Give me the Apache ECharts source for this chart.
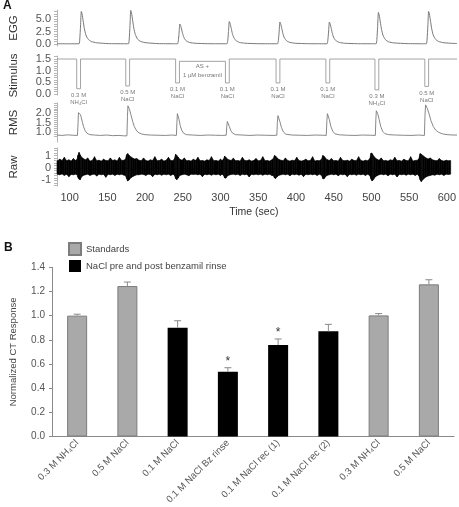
<!DOCTYPE html>
<html><head><meta charset="utf-8">
<script src="https://cdn.jsdelivr.net/npm/echarts@6/dist/echarts.min.js"></script>
<style>html,body{margin:0;padding:0;background:#fff}#c{width:459px;height:507px}</style>
</head><body><div id="c"></div>
<script>
// ================= Panel A data =================
const timeMin = 83.3, timeMax = 605;
const timeTickLabels = [100,150,200,250,300,350,400,450,500,550,600];
const eggTickLabels = [0, 2.5, 5];
const stimTickLabels = [0, 0.5, 1, 1.5];
const rmsTickLabels = [1, 1.5, 2];
const rawTickLabels = [-1, 0, 1];

// EGG trace [time, value]
const eggTrace = [
[83.3,0.05],[100,0.04],[112,0.05],[113,1.0],[114,3.6],[115,6.5],[116,6.0],[117.5,4.55],[119,3.05],[121,1.8],[124,0.95],[128,0.5],[135,0.25],[150,0.08],[170,0.05],
[176.5,0.05],[177.5,1.0],[178.5,3.7],[179.5,6.7],[180.5,6.2],[182,4.7],[183.5,3.15],[185.5,1.9],[188.5,0.95],[192.5,0.5],[199.5,0.25],[215,0.08],[235,0.05],
[240.5,0.05],[241.5,0.6],[242.5,2.2],[243.5,4.0],[244.5,3.7],[246,2.8],[247.5,1.9],[249.5,1.1],[252.5,0.55],[256.5,0.3],[263.5,0.15],[280,0.06],[300,0.05],
[305,0.05],[306,0.7],[307,2.5],[308,4.5],[309,4.15],[310.5,3.15],[312,2.1],[314,1.25],[317,0.65],[321,0.33],[328,0.16],[345,0.06],[365,0.05],
[371,0.05],[372,0.7],[373,2.4],[374,4.4],[375,4.05],[376.5,3.1],[378,2.05],[380,1.2],[383,0.62],[387,0.32],[394,0.15],[410,0.06],[430,0.05],
[435.5,0.05],[436.5,0.7],[437.5,2.4],[438.5,4.4],[439.5,4.05],[441,3.1],[442.5,2.05],[444.5,1.2],[447.5,0.62],[451.5,0.32],[458.5,0.15],[475,0.06],[495,0.05],
[499.5,0.05],[500.5,0.95],[501.5,3.5],[502.5,6.3],[503.5,5.8],[505,4.4],[506.5,2.95],[508.5,1.75],[511.5,0.9],[515.5,0.45],[522.5,0.22],[540,0.08],[560,0.05],
[565,0.05],[566,1.0],[567,3.6],[568,6.5],[569,6.0],[570.5,4.55],[572,3.05],[574,1.8],[577,0.95],[581,0.5],[588,0.25],[600,0.12],[605,0.1]
];

// Stimulus pulses
const pulseStart = [109,173,238,303,369,434,498,563];
const pulseEnd   = [114,178,243,308,374,439,503,568];
const pulseLevel = [0.22,0.34,0.47,0.47,0.47,0.47,0.17,0.32];
const restLevel  = [1.5,1.5,1.5,1.4,1.5,1.5,1.5,1.5,1.5];
const pulseLabels = ['0.3 M\nNH₄Cl','0.5 M\nNaCl','0.1 M\nNaCl','0.1 M\nNaCl','0.1 M\nNaCl','0.1 M\nNaCl','0.3 M\nNH₄Cl','0.5 M\nNaCl'];
const benzLabelAt = [273, 1.4];
const benzLabel = 'AS +\n1 µM benzamil';

// RMS trace [time, value]
const rmsTrace = [
[83.3,0.86],[90,0.84],[97,0.87],[104,0.85],[110,0.84],[110.8,1.5],[111.3,2.0],[112,2.02],[113,1.95],[114,1.9],[115,1.75],[116.5,1.5],[118,1.28],[120,1.08],[122.5,0.95],[126,0.88],[132,0.86],[140,0.84],[148,0.86],[156,0.83],[164,0.84],[170,0.82],
[174.5,0.82],[175.2,1.8],[175.8,2.35],[176.8,2.3],[178,2.15],[180,1.85],[182,1.55],[184,1.3],[186.5,1.12],[189,1.0],[193,0.92],[198,0.88],[205,0.86],[215,0.85],[225,0.84],[233,0.86],
[239,0.84],[239.7,1.5],[240.3,1.95],[241.2,1.9],[242.5,1.65],[244,1.35],[246,1.1],[248.5,0.95],[252,0.88],[260,0.86],[270,0.84],[280,0.86],[290,0.85],[298,0.84],
[304,0.85],[304.7,1.3],[305.5,1.55],[306.5,1.5],[308,1.3],[310,1.08],[312.5,0.95],[316,0.88],[325,0.86],[335,0.84],[345,0.86],[355,0.85],[365,0.84],
[370,0.85],[370.7,1.5],[371.5,1.85],[372.5,1.8],[374,1.55],[376,1.25],[378.5,1.02],[382,0.9],[390,0.86],[400,0.85],[410,0.84],[420,0.86],[430,0.85],
[434.5,0.84],[435.3,1.6],[436,1.95],[437,1.9],[438.5,1.65],[440.5,1.3],[443,1.05],[446,0.92],[452,0.87],[462,0.85],[472,0.84],[482,0.86],[492,0.85],
[498.5,0.84],[499.2,1.7],[499.8,2.1],[500.8,2.0],[502,1.9],[503.5,1.65],[505.5,1.3],[508,1.05],[511,0.93],[516,0.88],[525,0.86],[535,0.85],[545,0.84],[555,0.86],
[562.5,0.84],[563.2,1.8],[564,2.4],[565,2.35],[566.5,2.2],[568.5,1.95],[571,1.6],[574,1.3],[577,1.12],[581,1.0],[586,0.92],[592,0.88],[600,0.86],[605,0.86]
];

// Raw signal envelope [time, upper, lower]
const rawEnvelope = [
[83.3,0.55,-0.5],[87,0.7,-0.55],[90,0.6,-0.48],[93,0.85,-0.6],[96,0.58,-0.5],[99,0.65,-0.7],[102,0.55,-0.52],[105,0.75,-0.55],[108,0.6,-0.5],
[110,0.7,-0.55],[111,1.0,-0.75],[112.5,1.25,-0.9],[114,1.05,-0.95],[116,0.85,-0.7],[118,0.75,-0.6],[121,0.65,-0.55],[124,0.8,-0.5],[127,0.55,-0.6],[130,0.6,-0.52],
[133,0.9,-0.5],[136,0.58,-0.65],[139,0.62,-0.5],[142,0.55,-0.55],[145,0.7,-0.5],[148,0.6,-0.75],[151,0.58,-0.5],[154,0.8,-0.55],[157,0.6,-0.5],[160,0.65,-0.6],
[163,0.55,-0.5],[166,0.85,-0.55],[169,0.6,-0.5],[172,0.62,-0.58],
[174,0.7,-0.6],[175.5,1.05,-0.85],[177,1.15,-1.05],[179,1.0,-0.95],[181,0.9,-0.8],[183.5,0.8,-0.7],[186,0.72,-0.62],[189,0.75,-0.55],[192,0.62,-0.55],[195,0.58,-0.5],
[198,0.8,-0.52],[201,0.6,-0.6],[204,0.55,-0.5],[207,0.65,-0.52],[210,0.6,-0.7],[213,0.9,-0.5],[216,0.58,-0.55],[219,0.6,-0.5],[222,0.7,-0.58],[225,0.55,-0.5],
[228,0.62,-0.55],[231,0.85,-0.5],[234,0.6,-0.6],[237,0.58,-0.5],
[239,0.75,-0.6],[240.5,1.1,-0.85],[242,1.0,-0.95],[244,0.85,-0.8],[246,0.7,-0.6],[249,0.62,-0.55],[252,0.8,-0.5],[255,0.58,-0.55],[258,0.6,-0.62],[261,0.55,-0.5],
[264,0.7,-0.52],[267,0.6,-0.5],[270,0.85,-0.55],[273,0.58,-0.5],[276,0.6,-0.7],[279,0.55,-0.5],[282,0.65,-0.55],[285,0.6,-0.5],[288,0.9,-0.58],[291,0.58,-0.5],
[294,0.6,-0.55],[297,0.55,-0.5],[300,0.7,-0.6],[302,0.6,-0.5],
[304,0.7,-0.6],[305.5,0.95,-0.8],[307,0.85,-0.82],[309,0.72,-0.65],[311,0.65,-0.58],[314,0.6,-0.52],[317,0.78,-0.5],[320,0.58,-0.55],[323,0.6,-0.5],[326,0.55,-0.6],
[329,0.85,-0.5],[332,0.6,-0.55],[335,0.58,-0.5],[338,0.65,-0.72],[341,0.55,-0.5],[344,0.6,-0.55],[347,0.75,-0.5],[350,0.58,-0.55],[353,0.6,-0.5],[356,0.9,-0.58],
[359,0.58,-0.5],[362,0.6,-0.55],[365,0.55,-0.5],[368,0.65,-0.6],
[370,0.75,-0.62],[371.5,1.0,-0.8],[373,0.95,-0.85],[375,0.8,-0.7],[377,0.7,-0.6],[380,0.62,-0.55],[383,0.58,-0.5],[386,0.8,-0.55],[389,0.6,-0.5],[392,0.55,-0.62],
[395,0.62,-0.5],[398,0.58,-0.55],[401,0.85,-0.5],[404,0.6,-0.58],[407,0.55,-0.5],[410,0.6,-0.7],[413,0.7,-0.5],[416,0.58,-0.55],[419,0.6,-0.5],[422,0.9,-0.55],
[425,0.55,-0.5],[428,0.6,-0.6],[431,0.58,-0.5],
[434,0.7,-0.6],[435.5,1.0,-0.85],[437,0.95,-0.88],[439,0.8,-0.72],[441,0.68,-0.6],[444,0.6,-0.55],[447,0.75,-0.5],[450,0.58,-0.55],[453,0.6,-0.5],[456,0.55,-0.62],
[459,0.85,-0.5],[462,0.6,-0.55],[465,0.58,-0.5],[468,0.62,-0.7],[471,0.55,-0.5],[474,0.7,-0.55],[477,0.6,-0.5],[480,0.58,-0.58],[483,0.9,-0.5],[486,0.6,-0.55],
[489,0.55,-0.5],[492,0.62,-0.6],[495,0.58,-0.5],
[498,0.75,-0.62],[499.5,1.2,-0.9],[501,1.15,-1.05],[503,0.95,-0.9],[505,0.8,-0.72],[507.5,0.7,-0.62],[510,0.62,-0.55],[513,0.8,-0.5],[516,0.58,-0.55],[519,0.6,-0.5],
[522,0.55,-0.62],[525,0.65,-0.5],[528,0.6,-0.55],[531,0.85,-0.5],[534,0.58,-0.72],[537,0.6,-0.5],[540,0.55,-0.55],[543,0.7,-0.5],[546,0.6,-0.58],[549,0.58,-0.5],
[552,0.9,-0.55],[555,0.55,-0.5],[558,0.6,-0.6],[561,0.62,-0.5],
[563,0.75,-0.65],[564.5,1.15,-0.95],[566,1.1,-1.1],[568,1.0,-0.95],[570,0.9,-0.82],[572.5,0.8,-0.72],[575,0.72,-0.65],[578,0.8,-0.6],[581,0.65,-0.55],[584,0.6,-0.58],
[587,0.58,-0.5],[590,0.75,-0.55],[593,0.6,-0.5],[596,0.55,-0.6],[599,0.62,-0.5],[602,0.58,-0.52],[605,0.6,-0.5]
];

// ================= Panel B data =================
const bCats = ['0.3 M NH₄Cl','0.5 M NaCl','0.1 M NaCl','0.1 M NaCl Bz rinse','0.1 M NaCl rec (1)','0.1 M NaCl rec (2)','0.3 M NH₄Cl','0.5 M NaCl'];
const bVals = [1.00, 1.245, 0.90, 0.536, 0.757, 0.870, 1.002, 1.259];
const bErr  = [0.012, 0.033, 0.058, 0.033, 0.05, 0.058, 0.015, 0.038];
const bGroup = ['std','std','nacl','nacl','nacl','nacl','std','std'];
const bStar = [0,0,0,1,1,0,0,0];
const bTickLabels = [0,0.2,0.4,0.6,0.8,1.0,1.2,1.4];
const seriesNames = {std:'Standards', nacl:'NaCl pre and post benzamil rinse'};

// ================= build =================
const FF = '"Liberation Sans", Arial, Helvetica, sans-serif';
function steps(a,b,s){const r=[];for(let v=a;v<=b+1e-9;v+=s)r.push(+v.toFixed(3));return r;}

const stimLine = [[timeMin, restLevel[0]]];
pulseStart.forEach((s,i)=>{
  stimLine.push([s, restLevel[i]],[s, pulseLevel[i]],[pulseEnd[i], pulseLevel[i]],[pulseEnd[i], restLevel[i+1]]);
});
stimLine.push([timeMax, restLevel[restLevel.length-1]]);

const gridsA = [
  {left:50,right:2,top:10,height:36},
  {left:50,right:2,top:56,height:39},
  {left:50,right:2,top:102.9,height:39.2},
  {left:50,right:2,top:148,height:38}
];
const gridB = {left:49,right:5,top:267.3,height:169.2};

function aY(i,name,min,max,labels,ticks,fmt){
  return {type:'value',gridIndex:i,min:min,max:max,name:name,nameLocation:'middle',nameGap:37,
    nameTextStyle:{fontSize:11.5,color:'#333',fontFamily:FF},
    axisLine:{show:true,lineStyle:{color:'#b5b5b5',width:1}},
    axisTick:{show:true,length:3,customValues:ticks,lineStyle:{color:'#b5b5b5'}},
    axisLabel:{customValues:labels,formatter:fmt,fontSize:11,color:'#555',margin:6,fontFamily:FF,hideOverlap:false},
    splitLine:{show:false}};
}
const f1 = v=>(+v).toFixed(1);
const f0 = v=>String(Math.round(v));

const xAxes = [0,1,2].map(i=>({type:'value',gridIndex:i,min:timeMin,max:timeMax,show:false}));
xAxes.push({type:'value',gridIndex:3,min:timeMin,max:timeMax,
  name:'Time (sec)',nameLocation:'middle',nameGap:21,nameTextStyle:{fontSize:10.5,color:'#333',fontFamily:FF},
  axisLine:{show:true,lineStyle:{color:'#b5b5b5'}},
  axisTick:{show:true,length:3,customValues:steps(90,600,10),lineStyle:{color:'#b5b5b5'}},
  axisLabel:{customValues:timeTickLabels,fontSize:11,color:'#444',margin:6,fontFamily:FF,hideOverlap:false},
  splitLine:{show:false}});
xAxes.push({type:'category',gridIndex:4,data:bCats,
  axisLine:{lineStyle:{color:'#8a8a8a'}},
  axisTick:{alignWithLabel:false,length:4,lineStyle:{color:'#8a8a8a'}},
  axisLabel:{rotate:45,interval:0,fontSize:9.5,color:'#555',margin:5,fontFamily:FF,hideOverlap:false}});

// RMS axis: regular interval axis, labels limited to the tick-label list
const rmsAxis = {type:'value',gridIndex:2,min:0.5,max:2.5,interval:0.5,name:'RMS',nameLocation:'middle',nameGap:37,
  nameTextStyle:{fontSize:11.5,color:'#333',fontFamily:FF},
  axisLine:{show:true,lineStyle:{color:'#b5b5b5',width:1}},
  axisTick:{show:true,length:3,customValues:steps(0.8,2.5,0.1),lineStyle:{color:'#b5b5b5'}},
  axisLabel:{formatter:v=>rmsTickLabels.some(t=>Math.abs(t-v)<1e-6)?(+v).toFixed(1):'',fontSize:11,color:'#555',margin:6,fontFamily:FF,hideOverlap:false},
  splitLine:{show:false}};

const yAxes = [
  aY(0,'EGG',-0.4,6.8,eggTickLabels,steps(0,6.5,0.5),f1),
  aY(1,'Stimulus',-0.05,1.63,stimTickLabels,steps(0,1.6,0.1),f1),
  rmsAxis,
  aY(3,'Raw',-1.45,1.6,rawTickLabels,steps(-1.4,1.6,0.2),f0),
  {type:'value',gridIndex:4,min:0,max:1.4,interval:0.2,name:'Normalized CT Response',nameLocation:'middle',nameGap:34,
    nameTextStyle:{fontSize:9.5,color:'#444',fontFamily:FF},
    axisLine:{show:true,lineStyle:{color:'#8a8a8a'}},
    axisTick:{show:true,length:3,lineStyle:{color:'#8a8a8a'}},
    axisLabel:{customValues:bTickLabels,formatter:f1,fontSize:10,color:'#555',margin:7,fontFamily:FF,hideOverlap:false},
    splitLine:{show:false}}
];

const series = [
  {type:'line',xAxisIndex:0,yAxisIndex:0,data:eggTrace,symbol:'none',smooth:0.2,lineStyle:{color:'#6a6a6a',width:0.9},silent:true},
  {type:'line',xAxisIndex:1,yAxisIndex:1,data:stimLine,symbol:'none',lineStyle:{color:'#9a9a9a',width:0.9},silent:true},
  {type:'scatter',xAxisIndex:1,yAxisIndex:1,symbolSize:0,silent:true,
    data:pulseStart.map((s,i)=>({value:[(s+pulseEnd[i])/2,pulseLevel[i]],label:{formatter:pulseLabels[i]}})),
    label:{show:true,position:'bottom',distance:3,fontSize:6,lineHeight:7,color:'#555',fontFamily:FF}},
  {type:'scatter',xAxisIndex:1,yAxisIndex:1,symbolSize:0,silent:true,
    data:[{value:benzLabelAt,label:{formatter:benzLabel}}],
    label:{show:true,position:'bottom',distance:1,fontSize:6,lineHeight:8.5,color:'#555',fontFamily:FF}},
  {type:'line',xAxisIndex:2,yAxisIndex:2,data:rmsTrace,symbol:'none',lineStyle:{color:'#7a7a7a',width:0.9},silent:true},
  {type:'custom',xAxisIndex:3,yAxisIndex:3,silent:true,encode:{x:0,y:[1,2]},
    data:rawEnvelope,
    renderItem:function(params,api){
      const i=params.dataIndex;
      if(i>=rawEnvelope.length-1) return null;
      const a=rawEnvelope[i], b=rawEnvelope[i+1];
      const pts=[api.coord([a[0],a[1]]),api.coord([b[0],b[1]]),api.coord([b[0],b[2]]),api.coord([a[0],a[2]])];
      return {type:'polygon',shape:{points:pts},style:{fill:'#000',stroke:'#000',lineWidth:0.6}};
    }},
  {type:'bar',name:seriesNames.std,xAxisIndex:4,yAxisIndex:4,barWidth:20,barGap:'-100%',
    data:bVals.map((v,i)=>bGroup[i]==='std'?v:null),itemStyle:{color:'#a9a9a9',borderColor:'#7c7c7c',borderWidth:1}},
  {type:'bar',name:seriesNames.nacl,xAxisIndex:4,yAxisIndex:4,barWidth:20,barGap:'-100%',
    data:bVals.map((v,i)=>bGroup[i]==='nacl'?v:null),itemStyle:{color:'#000'}},
  {type:'custom',xAxisIndex:4,yAxisIndex:4,z:5,silent:true,encode:{x:0,y:[1,2]},
    data:bVals.map((v,i)=>[i,v,v+bErr[i],bStar[i]]),
    renderItem:function(params,api){
      const x=api.value(0);
      const top=api.coord([x,api.value(1)]);
      const et=api.coord([x,api.value(2)]);
      const st={stroke:'#8a8a8a',lineWidth:1};
      const ch=[
        {type:'line',shape:{x1:top[0],y1:top[1],x2:et[0],y2:et[1]},style:st},
        {type:'line',shape:{x1:et[0]-3.5,y1:et[1],x2:et[0]+3.5,y2:et[1]},style:st}
      ];
      if(api.value(3)) ch.push({type:'text',x:et[0],y:et[1]-6,style:{text:'*',fill:'#333',fontSize:12,align:'center',verticalAlign:'middle',fontFamily:FF}});
      return {type:'group',children:ch};
    }}
];

const option = {
  animation:false,
  backgroundColor:'#fff',
  textStyle:{fontFamily:FF},
  title:[
    {text:'A',left:3,top:0,padding:0,textStyle:{fontSize:12,fontWeight:'bold',color:'#111',fontFamily:FF}},
    {text:'B',left:4,top:242,padding:0,textStyle:{fontSize:12,fontWeight:'bold',color:'#111',fontFamily:FF}}
  ],
  legend:{data:[seriesNames.std,seriesNames.nacl],orient:'vertical',left:68,top:242,itemWidth:12,itemHeight:12,itemGap:4,
    icon:'rect',selectedMode:false,padding:0,textStyle:{fontSize:9.5,color:'#444',fontFamily:FF}},
  grid:gridsA.concat([gridB]),
  xAxis:xAxes,
  yAxis:yAxes,
  series:series
};
const chart = echarts.init(document.getElementById('c'));
chart.setOption(option);
</script></body></html>
